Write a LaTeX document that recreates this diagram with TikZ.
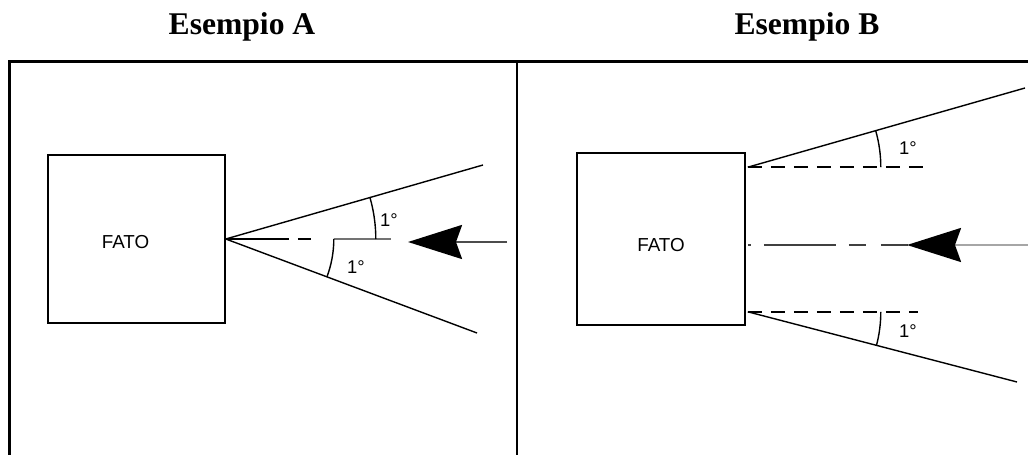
\documentclass[tikz,border=0pt]{standalone}
\usepackage{fontspec}
\setmainfont{Liberation Serif}
\newfontfamily\labelfont{Liberation Sans}
\usetikzlibrary{arrows.meta,positioning}

\begin{document}
\begin{tikzpicture}[x=0.5pt, y=0.5pt,
    title/.style={font=\fontsize{15.8}{18}\selectfont\bfseries},
    fato/.style={rectangle, draw, line width=0.8pt, minimum width=#1, inner sep=0pt},
    fatotext/.style={font=\labelfont\fontsize{9.4}{11}\selectfont},
    deg/.style={font=\labelfont\fontsize{9.2}{11}\selectfont},
    frame/.style={line width=1.5pt},
    ray/.style={line width=0.7pt},
    aux/.style={line width=0.9pt, dash pattern=on 7pt off 4.5pt},
    anglearc/.style={line width=0.7pt},
    wind/.style={line width=1.2pt, -{Stealth[length=27pt, width=17pt, inset=3pt, color=black]}}]
  \useasboundingbox (0,0) rectangle (1028,455);

  % titles and frame
  \node[title] (titA) at (242,428) {Esempio A};
  \node[title] (titB) at (807,428) {Esempio B};
  \draw[frame] (9,0) -- (9,393) -- (1028,393);
  \draw[line width=1pt] (517,0) -- (517,393);

  % Esempio A
  \node[fato=88.5pt, minimum height=84pt] (boxA) at (136.5,216) {};
  \node[fatotext] (txtA) at ([xshift=-5.5pt,yshift=-1.5pt]boxA.center) {FATO};
  \coordinate (endAu) at (483,290);
  \coordinate (endAl) at (477,122);
  \draw[ray] (boxA.east) -- (endAu);
  \draw[ray] (boxA.east) -- (endAl);
  \draw[line width=1.3pt, dash pattern=on 31.5pt off 4.5pt on 6.5pt off 100pt]
    (boxA.east) -- ++(165,0);
  \draw[line width=1pt, black!55] ([xshift=54pt]boxA.east) -- ++(57,0);
  \draw[anglearc] ([xshift=75pt]boxA.east) arc[start angle=0, end angle=16, radius=150];
  \draw[anglearc] ([xshift=54pt]boxA.east) arc[start angle=0, end angle=-20.5, radius=108];
  \node[deg] (degAu) at (389,235) {1°};
  \node[deg] (degAl) at (356,188) {1°};
  \coordinate (tailA) at (507,213);
  \coordinate (tipA) at (408,213);
  \draw[wind, draw=black!70] (tailA) -- (tipA);

  % Esempio B
  \node[fato=84pt, minimum height=86pt] (boxB) at (661,216) {};
  \node[fatotext] (txtB) at ([yshift=-3pt]boxB.center) {FATO};
  \coordinate (startBu) at ([xshift=1pt,yshift=-7.5pt]boxB.north east);
  \coordinate (startBl) at ([xshift=1pt,yshift=7pt]boxB.south east);
  \coordinate (endBu) at (1025,367);
  \coordinate (endBl) at (1017,73);
  \draw[ray] (startBu) -- (endBu);
  \draw[ray] (startBl) -- (endBl);
  \draw[aux] (startBu) -- ++(178,0);
  \draw[aux] (startBl) -- ++(170,0);
  \draw[anglearc] ([xshift=66.5pt]startBu) arc[start angle=0, end angle=16, radius=133];
  \draw[anglearc] ([xshift=66.5pt]startBl) arc[start angle=0, end angle=-14.7, radius=133];
  \node[deg] (degBu) at (908,307) {1°};
  \node[deg] (degBl) at (908,124) {1°};
  \draw[line width=1pt, draw=black!75, dash pattern=on 1.5pt off 6.5pt on 36pt off 6.5pt on 8.5pt off 7.5pt on 13.5pt]
    ([xshift=1pt,yshift=-3pt]boxB.east) -- ++(160,0);
  \coordinate (tailB) at (1028,210);
  \coordinate (tipB) at (907,210);
  \draw[wind, draw=black!35] (tailB) -- (tipB);
\end{tikzpicture}
\end{document}
